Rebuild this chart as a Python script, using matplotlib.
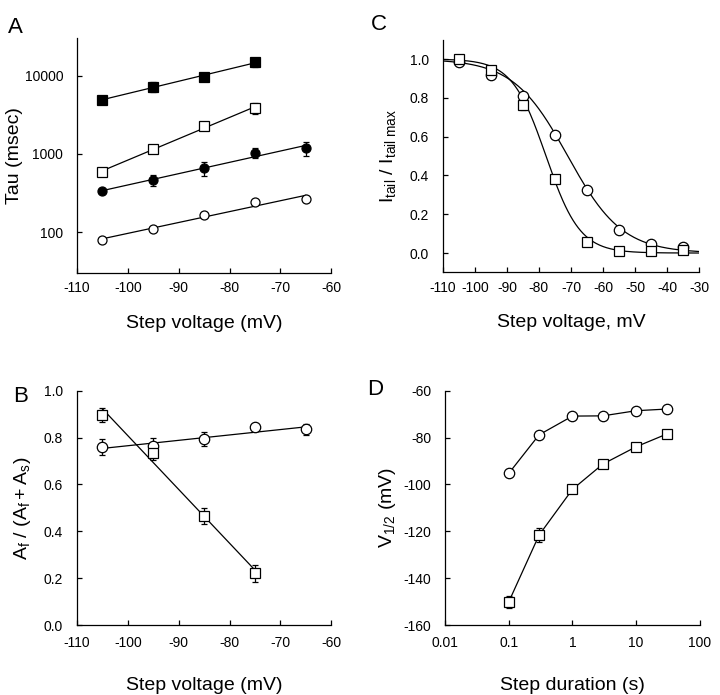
import numpy as np
import matplotlib
matplotlib.use("Agg")
import matplotlib.pyplot as plt
from matplotlib.ticker import FixedLocator, NullLocator, FixedFormatter

plt.rcParams['font.family'] = ['Liberation Sans', 'DejaVu Sans']
plt.rcParams['mathtext.fontset'] = 'custom'
plt.rcParams['mathtext.rm'] = 'Liberation Sans'
plt.rcParams['mathtext.it'] = 'Liberation Sans'
plt.rcParams['axes.unicode_minus'] = False

# -----------------------------------------------------------------
# Data
# -----------------------------------------------------------------
# panel A: time constants (msec) vs step voltage
vA4 = [-105, -95, -85, -75]
vA5 = [-105, -95, -85, -75, -65]
tauFilledSq = [4920, 7230, 9710, 14860]
tauFilledSqErr = [0, 1000, 500, 2000]
tauOpenSq = [593, 1160, 2240, 3850]
tauOpenSqErr = [0, 0, 0, 600]
tauFilledCirc = [336, 464, 655, 1040, 1183]
tauFilledCircErr = [0, 80, 130, 150, 240]
tauOpenCirc = [79, 111, 164, 245, 263]

# panel B: fast amplitude fraction
vB4 = [-105, -95, -85, -75]
vB5 = [-105, -95, -85, -75, -65]
afCirc = [0.76, 0.765, 0.795, 0.845, 0.835]
afCircErr = [0.035, 0.035, 0.03, 0.0, 0.025]
afSq = [0.895, 0.735, 0.465, 0.22]
afSqErr = [0.03, 0.03, 0.035, 0.035]

# panel C: normalized tail current
vC = [-105, -95, -85, -75, -65, -55, -45, -35]
itailCirc = [0.985, 0.92, 0.81, 0.61, 0.325, 0.12, 0.045, 0.03]
itailSq = [1.0, 0.945, 0.765, 0.38, 0.055, 0.01, 0.01, 0.015]
itailSqErr = [0, 0, 0.03, 0, 0, 0, 0, 0]
# Boltzmann fit parameters (V1/2, slope)
bCirc = (-71.0, 8.5)
bSq = (-77.8, 5.3)

# panel D: V1/2 vs step duration
durD = [0.1, 0.3, 1, 3, 10, 30]
vhalfCirc = [-95.3, -78.8, -70.8, -70.7, -68.5, -67.8]
vhalfSq = [-150.2, -121.6, -102.1, -91.3, -83.9, -78.5]
vhalfSqErr = [2.5, 3.0, 0, 0, 0, 0]

fs_tick = 10
fs_label = 14
fs_panel = 16
ms = 6.5
lw = 0.9

fig = plt.figure(figsize=(7.2, 6.95), dpi=100)

def style(ax, xpad=6):
    for s in ['top', 'right']:
        ax.spines[s].set_visible(False)
    for s in ['left', 'bottom']:
        ax.spines[s].set_linewidth(0.9)
    ax.tick_params(direction='in', length=3.5, width=0.9, labelsize=fs_tick)
    ax.tick_params(axis='y', pad=10)
    ax.tick_params(axis='x', pad=xpad)

def pts(ax, x, y, marker, filled, yerr=None, size=ms):
    fc = 'black' if filled else 'white'
    if yerr is not None:
        ax.errorbar(x, y, yerr=yerr, fmt='none', ecolor='black', elinewidth=0.9,
                    capsize=2.5, capthick=0.9, zorder=2)
    ax.plot(x, y, linestyle='none', marker=marker, markersize=size,
            markerfacecolor=fc, markeredgecolor='black', markeredgewidth=0.9,
            zorder=3)

# -----------------------------------------------------------------
# Panel A
# -----------------------------------------------------------------
axA = fig.add_axes([0.107, 0.607, 0.353, 0.338])
style(axA)
for x, y, m, f, e in [(vA4, tauFilledSq, 's', True, tauFilledSqErr),
                      (vA4, tauOpenSq, 's', False, tauOpenSqErr),
                      (vA5, tauFilledCirc, 'o', True, tauFilledCircErr),
                      (vA5, tauOpenCirc, 'o', False, None)]:
    p = np.polyfit(x, np.log10(y), 1)
    xx = np.array([x[0], x[-1]])
    axA.plot(xx, 10 ** np.polyval(p, xx), color='black', lw=lw, zorder=1)
    pts(axA, x, y, m, f, e)
axA.set_yscale('log')
axA.set_xlim(-110, -60)
axA.set_ylim(30, 30000)
axA.yaxis.set_major_locator(FixedLocator([100, 1000, 10000]))
axA.yaxis.set_major_formatter(FixedFormatter(['100', '1000', '10000']))
axA.yaxis.set_minor_locator(NullLocator())
axA.set_xticks([-110, -100, -90, -80, -70, -60])
axA.set_xlabel('Step voltage (mV)', fontsize=fs_label, labelpad=14)
axA.set_ylabel('Tau (msec)', fontsize=fs_label, labelpad=1)

# -----------------------------------------------------------------
# Panel B
# -----------------------------------------------------------------
axB = fig.add_axes([0.107, 0.1007, 0.353, 0.337])
style(axB, xpad=8)
for x, y, m, e in [(vB5, afCirc, 'o', afCircErr), (vB4, afSq, 's', afSqErr)]:
    p = np.polyfit(x, y, 1)
    xx = np.array([x[0], x[-1]])
    axB.plot(xx, np.polyval(p, xx), color='black', lw=lw, zorder=1)
    pts(axB, x, y, m, False, e, size=ms + 1)
axB.set_xlim(-110, -60)
axB.set_ylim(0, 1.0)
axB.set_xticks([-110, -100, -90, -80, -70, -60])
axB.set_yticks([0.0, 0.2, 0.4, 0.6, 0.8, 1.0])
axB.set_yticklabels(['0.0', '0.2', '0.4', '0.6', '0.8', '1.0'])
axB.set_xlabel('Step voltage (mV)', fontsize=fs_label, labelpad=19)
axB.set_ylabel(r'$\mathregular{A_f\ /\ (A_f + A_s)}$', fontsize=fs_label, labelpad=8)

# -----------------------------------------------------------------
# Panel C
# -----------------------------------------------------------------
axC = fig.add_axes([0.615, 0.608, 0.356, 0.335])
style(axC)
vv = np.linspace(-110, -30, 300)
for (vh, k) in [bCirc, bSq]:
    axC.plot(vv, 1.0 / (1.0 + np.exp((vv - vh) / k)), color='black', lw=lw, zorder=1)
pts(axC, vC, itailCirc, 'o', False, None, size=ms + 1)
pts(axC, vC, itailSq, 's', False, itailSqErr, size=ms + 1)
axC.set_xlim(-110, -30)
axC.set_ylim(-0.1, 1.1)
axC.set_xticks(np.arange(-110, -29, 10))
axC.set_yticks([0.0, 0.2, 0.4, 0.6, 0.8, 1.0])
axC.set_yticklabels(['0.0', '0.2', '0.4', '0.6', '0.8', '1.0'])
axC.set_xlabel('Step voltage, mV', fontsize=fs_label, labelpad=14)
axC.set_ylabel(r'$\mathregular{I_{tail}\ /\ I_{tail\ max}}$', fontsize=fs_label, labelpad=8)

# -----------------------------------------------------------------
# Panel D
# -----------------------------------------------------------------
axD = fig.add_axes([0.618, 0.1007, 0.354, 0.337])
style(axD, xpad=8)
axD.plot(durD, vhalfCirc, color='black', lw=lw, zorder=1)
axD.plot(durD, vhalfSq, color='black', lw=lw, zorder=1)
pts(axD, durD, vhalfCirc, 'o', False, None, size=ms + 1)
pts(axD, durD, vhalfSq, 's', False, vhalfSqErr, size=ms + 1)
axD.set_xscale('log')
axD.set_xlim(0.01, 100)
axD.set_ylim(-160, -60)
axD.xaxis.set_major_locator(FixedLocator([0.01, 0.1, 1, 10, 100]))
axD.xaxis.set_major_formatter(FixedFormatter(['0.01', '0.1', '1', '10', '100']))
axD.xaxis.set_minor_locator(NullLocator())
axD.set_yticks([-160, -140, -120, -100, -80, -60])
axD.set_xlabel('Step duration (s)', fontsize=fs_label, labelpad=19)
axD.set_ylabel(r'$\mathregular{V_{1/2}}$ (mV)', fontsize=fs_label, labelpad=4)

# panel letters
for lab, x, y in [('A', 0.011, 0.975), ('C', 0.515, 0.98),
                  ('B', 0.018, 0.445), ('D', 0.51, 0.455)]:
    fig.text(x, y, lab, fontsize=fs_panel, ha='left', va='top')

fig.savefig('out.png', dpi=100)
